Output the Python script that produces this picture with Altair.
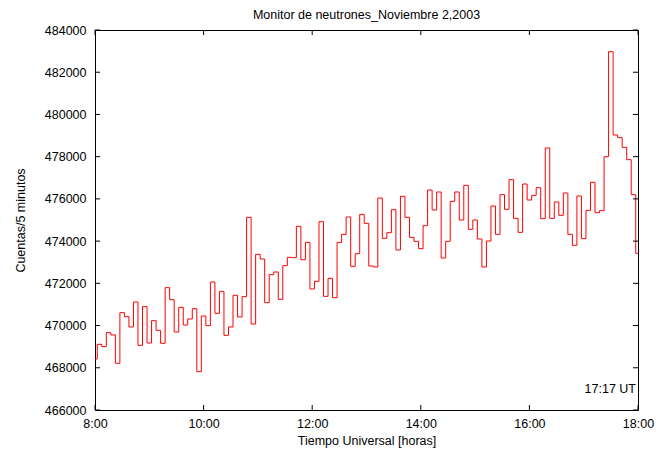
import altair as alt
import pandas as pd

# Neutron monitor counts, 5-minute values from 8:00 to 18:00 UT (121 values)
counts = [
    468416, 469111, 469000, 469664, 469553, 468211, 470611, 470421, 469932, 471116,
    469063, 470895, 469174, 470232, 469774, 469158, 471795, 471226, 469695, 470863,
    470026, 470311, 470800, 467816, 470453, 469995, 472063, 470579, 471621, 469537,
    469932, 471432, 470405, 471369, 475126, 470074, 473374, 473153, 471084, 472410,
    472537, 471242, 472837, 473232, 473216, 474700, 473121, 473942, 471732, 472095,
    474921, 471384, 472237, 471321, 473942, 474321, 475142, 472805, 473405, 475268,
    474842, 472821, 472774, 476042, 474132, 474400, 475489, 473579, 476121, 475126,
    474179, 473990, 473642, 474731, 476421, 475474, 476326, 473200, 473990, 475884,
    476326, 475000, 476642, 474558, 475000, 474100, 472774, 474005, 475663, 474321,
    476200, 475505, 476910, 475079, 474416, 476705, 475947, 476168, 476531, 475063,
    478410, 475079, 475853, 475221, 476279, 474321, 473800, 476137, 474116, 475458,
    476784, 475347, 475442, 478000, 482973, 479026, 478900, 478442, 477858, 476200,
    473421,
]
start_hour = 8
step_minutes = 5
hours = [start_hour + i * step_minutes / 60 for i in range(len(counts))]

x_ticks = [8, 10, 12, 14, 16, 18]
y_ticks = [466000, 468000, 470000, 472000, 474000, 476000, 478000, 480000, 482000, 484000]

title_text = "Monitor de neutrones_Noviembre 2,2003"
x_title = "Tiempo Universal [horas]"
y_title = "Cuentas/5 minutos"
note_text = "17:17 UT"

FONT = "Liberation Sans"
FS = 12.5
W, H = 543, 380

df = pd.DataFrame({"hora": hours, "cuentas": counts})
xt = pd.DataFrame({"h": x_ticks})
yt = pd.DataFrame({"c": y_ticks})

xscale = alt.Scale(domain=[8, 18], nice=False, zero=False)
yscale = alt.Scale(domain=[466000, 484000], nice=False, zero=False)

line = alt.Chart(df).mark_line(
    interpolate="step", color="#ff0000", strokeWidth=1, clip=True
).encode(
    x=alt.X("hora:Q", scale=xscale,
            axis=alt.Axis(values=x_ticks, labelExpr="floor(datum.value) + ':00'",
                          title=x_title, ticks=False, domain=False, grid=False,
                          labelPadding=7, labelFlush=False,
                          titleX=W / 2, titleY=30, titleBaseline="middle",
                          titleFontWeight="normal")),
    y=alt.Y("cuentas:Q", scale=yscale,
            axis=alt.Axis(values=y_ticks, format="d", title=y_title, ticks=False,
                          domain=False, grid=False, labelPadding=9,
                          titleX=-75, titleY=H / 2, titleAngle=-90,
                          titleBaseline="middle", titleAlign="center",
                          titleFontWeight="normal")),
)

left_ticks = alt.Chart(yt).mark_rule(color="black", strokeWidth=1).encode(
    y=alt.Y("c:Q", scale=yscale), x=alt.value(0), x2=alt.value(5))
right_ticks = alt.Chart(yt).mark_rule(color="black", strokeWidth=1).encode(
    y=alt.Y("c:Q", scale=yscale), x=alt.value(W - 5), x2=alt.value(W))
bottom_ticks = alt.Chart(xt).mark_rule(color="black", strokeWidth=1).encode(
    x=alt.X("h:Q", scale=xscale), y=alt.value(H - 5), y2=alt.value(H))
top_ticks = alt.Chart(xt).mark_rule(color="black", strokeWidth=1).encode(
    x=alt.X("h:Q", scale=xscale), y=alt.value(0), y2=alt.value(5))

note = alt.Chart(pd.DataFrame({"t": [note_text]})).mark_text(
    align="right", baseline="alphabetic", font=FONT, fontSize=FS, color="black"
).encode(text="t:N", x=alt.value(W - 2), y=alt.value(H - 17))

title = alt.Chart(pd.DataFrame({"t": [title_text]})).mark_text(
    align="center", baseline="alphabetic", font=FONT, fontSize=FS, color="black"
).encode(text="t:N", x=alt.value(W / 2), y=alt.value(-11.5))

chart = alt.layer(
    line, left_ticks, right_ticks, bottom_ticks, top_ticks, note, title
).properties(
    width=W, height=H,
    autosize=alt.AutoSizeParams(type="none"),
    padding={"left": 87, "top": 22, "right": 20, "bottom": 38},
).configure_view(
    stroke="black", strokeWidth=1
).configure_axis(
    labelFont=FONT, labelFontSize=FS, labelColor="black",
    titleFont=FONT, titleFontSize=FS, titleColor="black",
)

chart.save("out.html", embed_options={"renderer": "svg", "actions": False})
